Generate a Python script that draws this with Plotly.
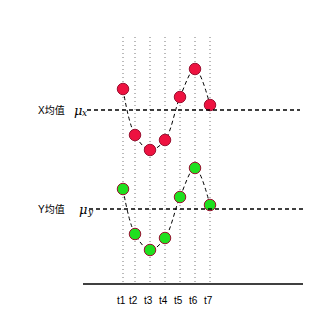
import plotly.graph_objects as go

# ---- data ----
times = [1, 1.8, 2.8, 3.8, 4.8, 5.8, 6.8]
time_labels = ["t1", "t2", "t3", "t4", "t5", "t6", "t7"]
x_series = [24.1, 19.5, 18.0, 19.0, 23.3, 26.1, 22.5]
y_series = [14.1, 9.6, 8.0, 9.2, 13.3, 16.2, 12.5]
x_mean = 22.0
y_mean = 12.1
baseline = 4.6
vline_top = 29.5
vline_bottom = 4.8

W, H = 322, 330
fig = go.Figure()

# vertical dotted time lines
for t in times:
    fig.add_shape(type="line", xref="x", yref="y", x0=t, x1=t, y0=vline_bottom, y1=vline_top,
                  line=dict(color="#777777", width=1, dash="1px,3px"), layer="below")

# mean lines
fig.add_shape(type="line", xref="paper", yref="y", x0=87 / W, x1=300 / W, y0=x_mean, y1=x_mean,
              line=dict(color="black", width=1.5, dash="4px,3px"))
fig.add_shape(type="line", xref="paper", yref="y", x0=89 / W, x1=305 / W, y0=y_mean, y1=y_mean,
              line=dict(color="black", width=1.5, dash="4px,3px"))
# baseline
fig.add_shape(type="line", xref="paper", yref="y", x0=83 / W, x1=303 / W, y0=baseline, y1=baseline,
              line=dict(color="black", width=1.3))

for vals, fill in ((x_series, "#ee1240"), (y_series, "#1fe01f")):
    fig.add_trace(go.Scatter(
        x=times, y=vals, mode="lines",
        line=dict(shape="spline", smoothing=1.0, color="black", width=1, dash="4px,3px"),
        hoverinfo="skip", showlegend=False))
    fig.add_trace(go.Scatter(
        x=times, y=vals, mode="markers",
        marker=dict(size=11.5, color=fill, line=dict(color="#9a1030", width=1)),
        showlegend=False))

font_txt = dict(family="Liberation Sans, Noto Sans CJK SC", size=10, color="black")
font_mu = dict(family="DejaVu Serif, Liberation Serif", size=13, color="black")
font_sub = dict(family="DejaVu Serif, Liberation Serif", size=9, color="black")

for t, lab in zip(times, time_labels):
    fig.add_annotation(x=t, y=3.0, xref="x", yref="y", text=lab, showarrow=False,
                       font=font_txt, xshift=-2)

fig.add_annotation(x=36 / W, y=x_mean, xref="paper", yref="y", text="X均值", xanchor="left",
                   showarrow=False, font=font_txt)
fig.add_annotation(x=72 / W, y=x_mean, xref="paper", yref="y", text="<i>μ</i>",
                   xanchor="left", showarrow=False, font=font_mu)
fig.add_annotation(x=80 / W, y=x_mean, xref="paper", yref="y", text="<i>x</i>",
                   xanchor="left", yshift=-3, showarrow=False, font=font_sub)
fig.add_annotation(x=36 / W, y=y_mean, xref="paper", yref="y", text="Y均值", xanchor="left",
                   showarrow=False, font=font_txt)
fig.add_annotation(x=77 / W, y=y_mean, xref="paper", yref="y", text="<i>μ</i>",
                   xanchor="left", showarrow=False, font=font_mu)
fig.add_annotation(x=85 / W, y=y_mean, xref="paper", yref="y", text="<i>y</i>",
                   xanchor="left", yshift=-3, showarrow=False, font=font_sub)

fig.update_layout(
    width=W, height=H, margin=dict(l=0, r=0, t=0, b=0),
    paper_bgcolor="white", plot_bgcolor="white",
    xaxis=dict(range=[1 - 123 / 15, 1 + 199 / 15], visible=False, fixedrange=True),
    yaxis=dict(range=[0, 33], visible=False, fixedrange=True),
)
fig.write_html("out.html")
